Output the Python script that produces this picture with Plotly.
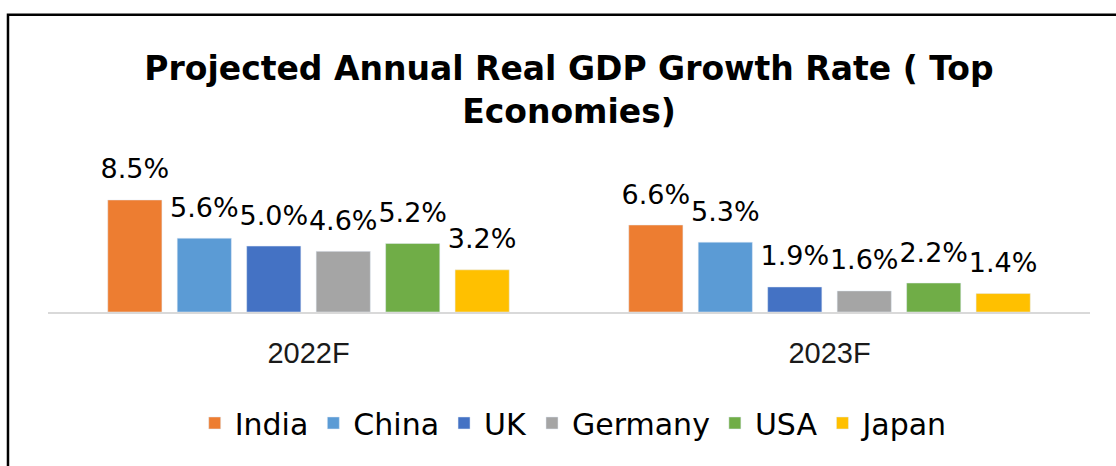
import plotly.graph_objects as go

# --- data ---
YEARS = ["2022F", "2023F"]
COUNTRIES = ["India", "China", "UK", "Germany", "USA", "Japan"]
GROWTH = {
    "India": [8.5, 6.6],
    "China": [5.6, 5.3],
    "UK": [5.0, 1.9],
    "Germany": [4.6, 1.6],
    "USA": [5.2, 2.2],
    "Japan": [3.2, 1.4],
}
COLORS = ["#ED7D31", "#5B9BD5", "#4472C4", "#A5A5A5", "#70AD47", "#FFC000"]

TITLE = "Projected Annual Real GDP Growth Rate ( Top<br>Economies)"
FONT = "DejaVu Sans"
TEXT = "#000000"

fig = go.Figure()

for name, color in zip(COUNTRIES, COLORS):
    fig.add_trace(
        go.Bar(
            x=YEARS,
            y=GROWTH[name],
            name=name,
            marker=dict(color=color),
            hoverinfo="skip",
        )
    )

# value labels, floated a bit above the bars (excel-ish spacing)
for name in COUNTRIES:
    vals = GROWTH[name]
    fig.add_trace(
        go.Scatter(
            x=YEARS,
            y=vals,
            mode="markers+text",
            text=[f"{v:.1f}%" for v in vals],
            textposition="top center",
            textfont=dict(family=FONT, size=27, color=TEXT),
            marker=dict(size=22, opacity=0),
            showlegend=False,
            hoverinfo="skip",
            cliponaxis=False,
        )
    )

fig.update_layout(
    width=1116,
    height=466,
    paper_bgcolor="white",
    plot_bgcolor="white",
    barmode="group",
    scattermode="group",
    bargap=0.20,
    bargroupgap=0.22,
    margin=dict(l=48, r=26, t=150, b=154),
    title=dict(
        text=f"<b>{TITLE}</b>",
        font=dict(family=FONT, size=33, color=TEXT),
        x=0.5,
        xref="paper",
        xanchor="center",
        y=0.828,
        yanchor="top",
    ),
    legend=dict(
        orientation="h",
        x=0.505,
        xanchor="center",
        y=-0.685,
        yanchor="middle",
        font=dict(family=FONT, size=30, color=TEXT),
        bgcolor="rgba(0,0,0,0)",
    ),
    showlegend=True,
)

fig.update_xaxes(
    showline=True,
    linecolor="#D9D9D9",
    linewidth=2,
    ticks="",
    showgrid=False,
    tickfont=dict(family="Liberation Sans", size=29, color="#1a1a1a"),
    ticklabelstandoff=14,
)
fig.update_yaxes(range=[0, 12.29], visible=False, showgrid=False)

# outer chart frame (only top/left show inside the crop)
fig.add_shape(
    type="rect",
    xref="paper",
    yref="paper",
    x0=-0.0384,
    x1=1.2,
    y0=-2.5,
    y1=1.835,
    line=dict(color="black", width=2.5),
    fillcolor="rgba(0,0,0,0)",
    layer="above",
)

fig.write_html(
    "out.html",
    config={"displayModeBar": False},
    post_script="document.body.style.margin='0';",
)
